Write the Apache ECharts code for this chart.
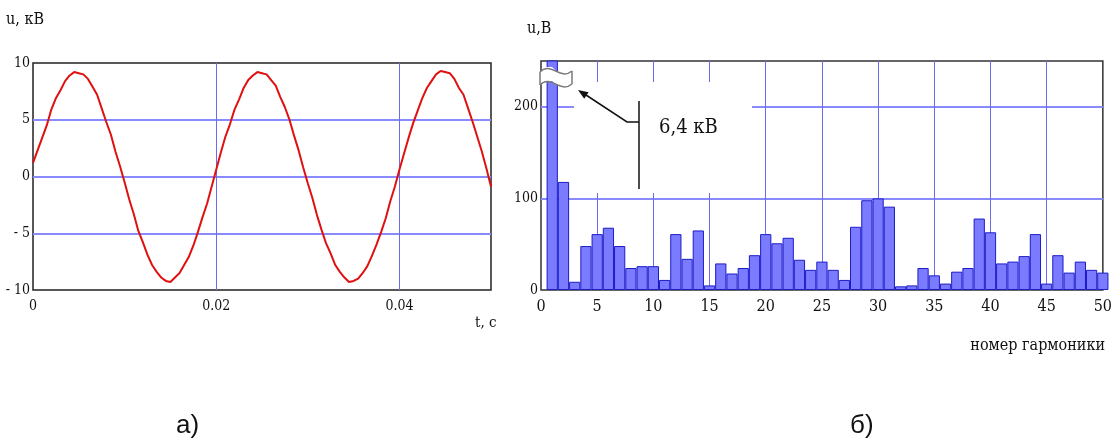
<!DOCTYPE html>
<html>
<head>
<meta charset="utf-8">
<script src="https://cdn.jsdelivr.net/npm/echarts@6/dist/echarts.min.js"></script>
<style>
  html, body { margin: 0; padding: 0; background: #fff; }
  #chart { width: 1115px; height: 444px; }
</style>
</head>
<body>
<div id="chart"></div>
<script>
// а) voltage waveform, kV, sampled every 0.5 ms (read off the picture)
const sampleStep = 0.0005;
const voltageKv = [
    1.2, 2.3, 3.4, 4.5, 5.9, 6.9, 7.6, 8.4, 8.9, 9.2,
    9.1, 9.0, 8.6, 7.9, 7.2, 6.0, 4.8, 3.7, 2.2, 0.9,
    -0.5, -2.0, -3.3, -4.8, -5.8, -6.9, -7.8, -8.4, -8.9, -9.2,
    -9.3, -8.9, -8.5, -7.8, -7.1, -6.1, -4.9, -3.6, -2.4, -0.9,
    0.6, 2.1, 3.5, 4.6, 5.9, 6.8, 7.8, 8.5, 8.9, 9.2,
    9.1, 9.0, 8.5, 8.0, 7.0, 6.1, 5.0, 3.6, 2.3, 0.8,
    -0.6, -1.9, -3.4, -4.7, -5.9, -6.8, -7.8, -8.4, -8.9, -9.3,
    -9.2, -9.0, -8.5, -7.9, -7.0, -6.0, -4.9, -3.7, -2.2, -0.9,
    0.6, 2.0, 3.4, 4.7, 5.8, 6.9, 7.8, 8.4, 9.0, 9.3,
    9.2, 9.1, 8.6, 7.8, 7.2, 6.0, 4.8, 3.5, 2.2, 0.7,
    -0.9
];

// б) harmonic spectrum, V, harmonics 1..50 (first one is 6,4 kV, cut off)
const harmonicVolts = [
    6400, 118, 9, 48, 61, 68, 48, 24, 26, 26,
    11, 61, 34, 65, 5, 29, 18, 24, 38, 61,
    51, 57, 33, 22, 31, 22, 11, 69, 98, 100,
    91, 4, 5, 24, 16, 7, 20, 24, 78, 63,
    29, 31, 37, 61, 7, 38, 19, 31, 22, 19
];

const leftYTicks = [-10, -5, 0, 5, 10];
const rightYTicks = [0, 100, 200];

const serif = "'DejaVu Serif Condensed', 'Liberation Serif', serif";
const gridBlue = '#8a8aff';

const wavePoints = voltageKv.map((u, i) => [+(i * sampleStep).toFixed(4), u]);
const spectrumPoints = harmonicVolts.map((v, i) => [i + 1, v]);

const chart = echarts.init(document.getElementById('chart'));

chart.setOption({
    animation: false,
    grid: [
        { left: 33, top: 63, width: 458, height: 227, show: true, borderColor: '#222', borderWidth: 1.5, backgroundColor: '#fff' },
        { left: 541, top: 61, width: 562, height: 229, show: true, borderColor: '#333', borderWidth: 1.5, backgroundColor: '#fff' }
    ],
    xAxis: [
        {
            gridIndex: 0, type: 'value', min: 0, max: 0.05, interval: 0.02,
            axisLine: { show: false }, axisTick: { show: false },
            axisLabel: { showMaxLabel: false, margin: 9, color: '#111', fontFamily: serif, fontSize: 14 },
            splitLine: { show: true, showMinLine: false, showMaxLine: false, lineStyle: { color: '#6c6cf0', width: 1 } }
        },
        {
            gridIndex: 1, type: 'value', min: 0, max: 50, interval: 5,
            axisLine: { show: false }, axisTick: { show: false },
            axisLabel: { margin: 9, color: '#111', fontFamily: serif, fontSize: 16 },
            splitLine: { show: true, showMinLine: false, showMaxLine: false, lineStyle: { color: '#6c6cf0', width: 1 } }
        }
    ],
    yAxis: [
        {
            gridIndex: 0, type: 'value', min: leftYTicks[0], max: leftYTicks[leftYTicks.length - 1], interval: 5,
            axisLine: { show: false }, axisTick: { show: false },
            axisLabel: {
                margin: 3, color: '#111', fontFamily: serif, fontSize: 14,
                formatter: (v) => (v < 0 ? '- ' + Math.abs(v) : String(v))
            },
            splitLine: { show: true, showMinLine: false, showMaxLine: false, lineStyle: { color: gridBlue, width: 2 } }
        },
        {
            gridIndex: 1, type: 'value', min: 0, max: 250, interval: 100,
            axisLine: { show: false }, axisTick: { show: false },
            axisLabel: {
                margin: 3, color: '#111', fontFamily: serif, fontSize: 14,
                formatter: (v) => (rightYTicks.includes(v) ? String(v) : '')
            },
            splitLine: { show: true, showMinLine: false, showMaxLine: false, lineStyle: { color: gridBlue, width: 2 } }
        }
    ],
    series: [
        {
            type: 'line', xAxisIndex: 0, yAxisIndex: 0,
            data: wavePoints, symbol: 'none', smooth: false,
            lineStyle: { color: '#e01010', width: 2 }, z: 5
        },
        {
            type: 'bar', xAxisIndex: 1, yAxisIndex: 1,
            data: spectrumPoints, barWidth: 11.24, clip: true,
            itemStyle: { color: '#7b7bff', borderColor: '#1c1cc8', borderWidth: 1 }, z: 3
        }
    ],
    graphic: [
        // axis titles
        { type: 'text', left: 6, top: 12, z: 10, style: { text: 'u, кВ', font: '16px ' + serif, fill: '#111' } },
        { type: 'text', left: 475, top: 316, z: 10, style: { text: 't, c', font: '15px ' + serif, fill: '#111' } },
        { type: 'text', left: 527, top: 21, z: 10, style: { text: 'u,B', font: '16px ' + serif, fill: '#111' } },
        { type: 'text', right: 10, top: 338, z: 10, style: { text: 'номер гармоники', font: '16px ' + serif, fill: '#111' } },
        // panel captions
        { type: 'text', left: 176, top: 413, z: 10, style: { text: 'а)', font: '26px "Liberation Sans", Arial, sans-serif', fill: '#111' } },
        { type: 'text', left: 850, top: 413, z: 10, style: { text: 'б)', font: '26px "Liberation Sans", Arial, sans-serif', fill: '#111' } },
        // white box behind the 6,4 kV note
        { type: 'rect', z: 1, shape: { x: 574, y: 82, width: 178, height: 111 }, style: { fill: '#fff' } },
        // break mark on the fundamental
        {
            type: 'polygon', z: 10,
            shape: { points: [[540, 72], [546, 67], [552, 67], [556, 71], [560, 74], [566, 74], [572, 71],
                              [572, 84], [566, 87], [560, 87], [556, 84], [552, 81], [546, 81], [540, 85]] },
            style: { fill: '#fff', stroke: null }
        },
        { type: 'bezierCurve', z: 11, shape: { x1: 540, y1: 72, cpx1: 551, cpy1: 61, cpx2: 560, cpy2: 81, x2: 572, y2: 71 }, style: { stroke: '#7a7a7a', lineWidth: 1.5, fill: null } },
        { type: 'bezierCurve', z: 11, shape: { x1: 540, y1: 85, cpx1: 551, cpy1: 74, cpx2: 560, cpy2: 94, x2: 572, y2: 84 }, style: { stroke: '#7a7a7a', lineWidth: 1.5, fill: null } },
        { type: 'line', z: 11, shape: { x1: 540, y1: 72, x2: 540, y2: 85 }, style: { stroke: '#7a7a7a', lineWidth: 1.5 } },
        { type: 'line', z: 11, shape: { x1: 572, y1: 71, x2: 572, y2: 84 }, style: { stroke: '#7a7a7a', lineWidth: 1.5 } },
        // arrow and leader
        { type: 'polyline', z: 10, shape: { points: [[586, 95], [627, 122], [639, 122]] }, style: { stroke: '#111', lineWidth: 1.5, fill: null } },
        { type: 'line', z: 10, shape: { x1: 639, y1: 101, x2: 639, y2: 189 }, style: { stroke: '#111', lineWidth: 1.5 } },
        { type: 'polygon', z: 10, shape: { points: [[578, 90], [588.6, 92.2], [584.2, 98.8]] }, style: { fill: '#111' } },
        { type: 'text', left: 659, top: 118, z: 10, style: { text: '6,4 кВ', font: '20px ' + serif, fill: '#111' } }
    ]
});
</script>
</body>
</html>
